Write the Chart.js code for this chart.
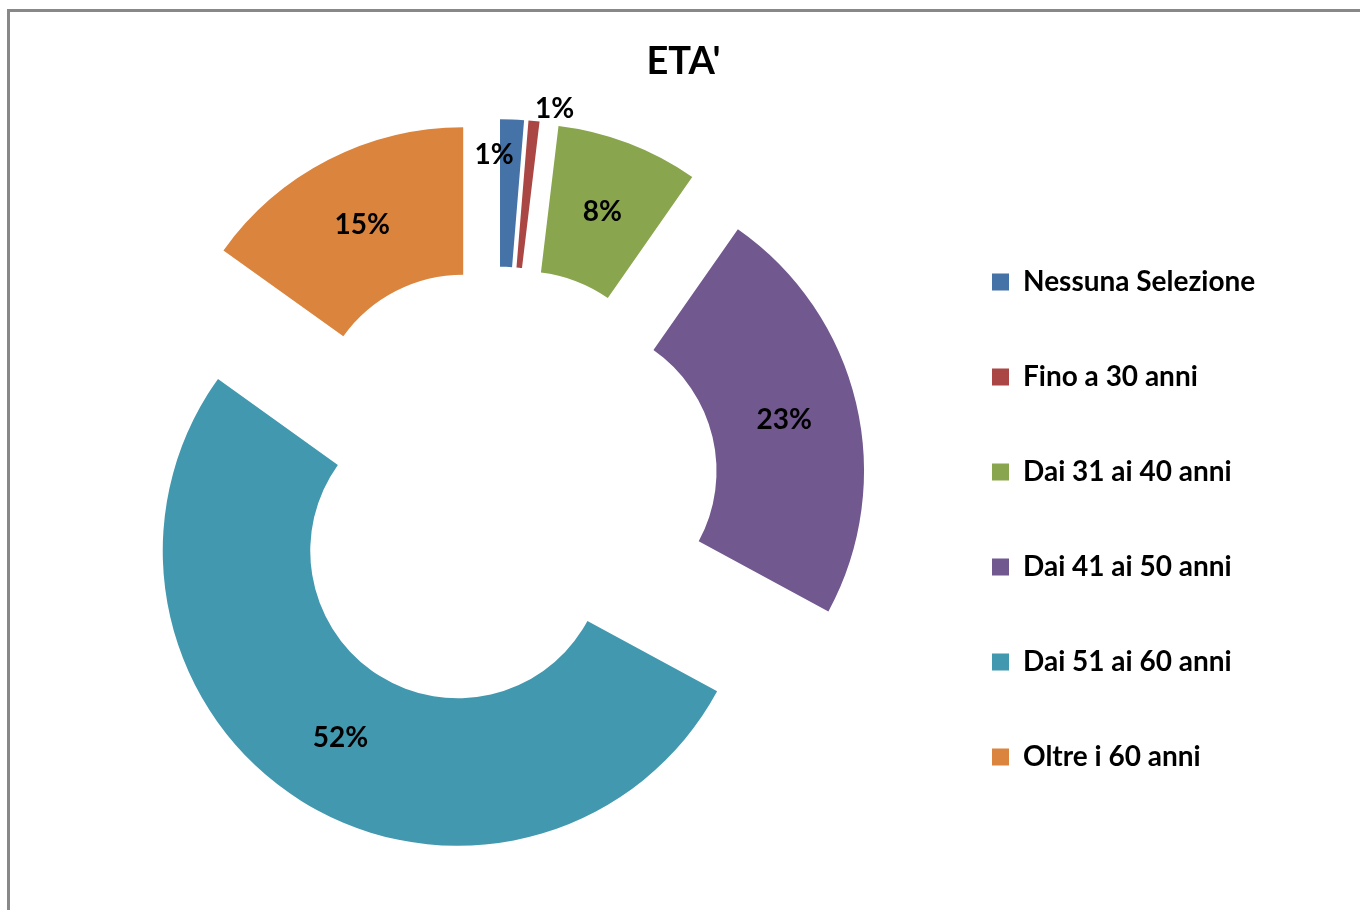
<!DOCTYPE html>
<html>
<head>
<meta charset="utf-8">
<title>ETA'</title>
<script src="https://cdn.jsdelivr.net/npm/chart.js@4.4.1/dist/chart.umd.min.js"></script>
<style>
  html, body { margin: 0; padding: 0; background: #fff; }
  #wrap { position: relative; width: 1360px; height: 910px; overflow: hidden; }
  #frame { position: absolute; left: 7px; top: 9px; width: 1400px; height: 1000px;
           border-top: 3px solid #888; border-left: 3px solid #888; }
  canvas { position: absolute; left: 0; top: 0; }
</style>
</head>
<body>
<div id="wrap">
  <div id="frame"></div>
  <canvas id="etaChart" width="1360" height="910"></canvas>
</div>
<script>
// Data
const categories = ['Nessuna Selezione', 'Fino a 30 anni', 'Dai 31 ai 40 anni', 'Dai 41 ai 50 anni', 'Dai 51 ai 60 anni', 'Oltre i 60 anni'];
const percentages = [1.3, 0.6, 7.8, 23.2, 52.0, 15.1];
const sliceColors = ['#4572A7', '#AA4643', '#89A54E', '#71588F', '#4198AF', '#DB843D'];

const EXPLODE = 74;       // distance each slice is pulled out from the centre
const LEGEND_WIDTH = 373; // fixed width of the legend column
// small slices get their label moved off the slice (like Excel does)
const labelNudge = { 0: [-15, -38], 1: [28, -85] };

const fontFamily = 'Lato, "Open Sans", sans-serif';

// Draw every arc shifted along its mid angle (pure translation, same radii)
const explodePlugin = {
    id: 'explode',
    beforeLayout(chart) {
        // give the legend a fixed width so the plot sits left like the original
        const legend = chart.legend;
        if (legend && !legend._fixedWidth) {
            const fit = legend.fit;
            legend.fit = function () {
                fit.call(this);
                this.width = LEGEND_WIDTH;
            };
            legend._fixedWidth = true;
        }
    },
    beforeDatasetDraw(chart, args) {
        const ctx = chart.ctx;
        args.meta.data.forEach(arc => {
            const mid = (arc.startAngle + arc.endAngle) / 2;
            ctx.save();
            ctx.translate(Math.cos(mid) * EXPLODE, Math.sin(mid) * EXPLODE);
            arc.draw(ctx);
            ctx.restore();
        });
        return false;
    },
    afterDatasetsDraw(chart) {
        const ctx = chart.ctx;
        const meta = chart.getDatasetMeta(0);
        const total = percentages.reduce((a, b) => a + b, 0);
        ctx.save();
        ctx.font = 'bold 28px ' + fontFamily;
        ctx.fillStyle = '#000';
        ctx.textAlign = 'center';
        ctx.textBaseline = 'middle';
        meta.data.forEach((arc, i) => {
            const mid = (arc.startAngle + arc.endAngle) / 2;
            const r = (arc.innerRadius + arc.outerRadius) / 2 + EXPLODE;
            const nudge = labelNudge[i] || [0, 0];
            const x = arc.x + Math.cos(mid) * r + nudge[0];
            const y = arc.y + Math.sin(mid) * r + nudge[1];
            ctx.fillText(Math.round(percentages[i] / total * 100) + '%', x, y);
        });
        ctx.restore();
    }
};

const ctx = document.getElementById('etaChart').getContext('2d');
new Chart(ctx, {
    type: 'doughnut',
    data: {
        labels: categories,
        datasets: [{
            data: percentages,
            backgroundColor: sliceColors,
            borderWidth: 0
        }]
    },
    options: {
        responsive: false,
        animation: false,
        radius: 295,
        cutout: '50%',
        layout: { padding: { left: 69, right: 62, top: 0, bottom: 29 } },
        plugins: {
            title: {
                display: true,
                text: "ETA'",
                color: '#000',
                font: { family: fontFamily, size: 38, weight: 'bold' },
                padding: { top: 38.8, bottom: 10.8 }
            },
            legend: {
                position: 'right',
                fullSize: false,
                title: { display: true, text: '', font: { size: 12 }, padding: { top: 24, bottom: 24.4 } },
                labels: {
                    boxWidth: 17,
                    boxHeight: 17,
                    padding: 67,
                    color: '#000',
                    font: { family: fontFamily, size: 28, weight: 'bold' }
                }
            },
            tooltip: { enabled: false }
        }
    },
    plugins: [explodePlugin]
});
</script>
</body>
</html>
